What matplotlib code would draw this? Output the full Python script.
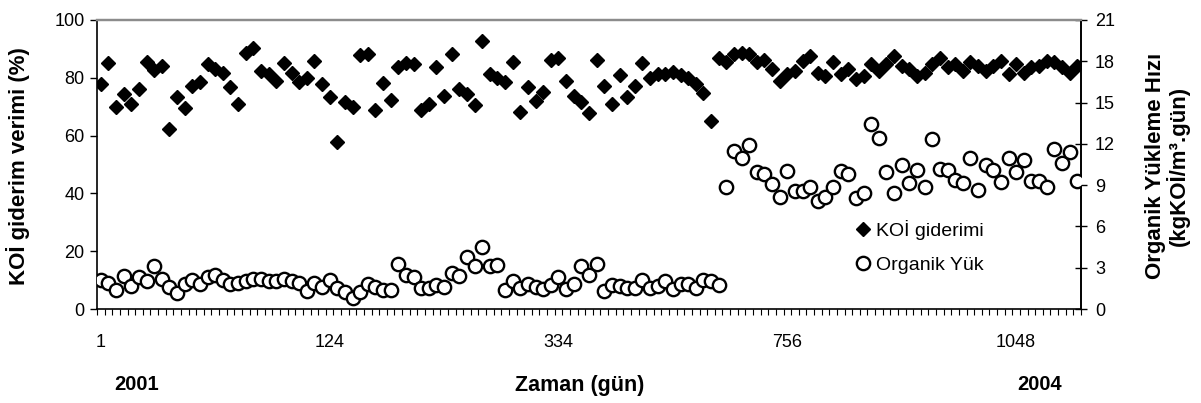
import matplotlib
matplotlib.use("Agg")
import matplotlib.pyplot as plt
from matplotlib.ticker import FixedLocator, NullFormatter

# ---- data ----
koi_giderimi = [
    77.8, 85.0, 70.0, 74.4, 71.0, 76.0, 85.3, 82.6, 84.0, 62.3,
    73.4, 69.4, 77.2, 78.6, 84.7, 83.0, 81.6, 76.7, 71.0, 88.7,
    90.4, 82.4, 81.3, 79.0, 85.0, 81.5, 78.4, 80.1, 85.9, 77.8,
    73.2, 57.7, 71.5, 70.0, 87.8, 88.2, 69.0, 78.2, 72.4, 83.9,
    85.0, 84.7, 69.0, 71.0, 83.9, 73.8, 88.2, 76.1, 74.4, 70.6,
    92.8, 81.3, 79.8, 78.7, 85.6, 68.0, 76.9, 72.0, 75.2, 86.2,
    86.7, 79.0, 73.8, 71.7, 67.8, 86.1, 77.2, 71.0, 80.9, 73.2,
    77.2, 85.0, 80.1, 81.3, 81.3, 82.0, 81.0, 79.9, 77.8, 74.9,
    65.2, 87.0, 85.3, 88.2, 88.7, 88.2, 85.3, 86.2, 83.0, 79.0,
    81.3, 82.4, 85.9, 87.6, 81.8, 80.7, 85.3, 81.3, 83.0, 79.5,
    80.7, 84.7, 82.4, 84.7, 87.6, 84.1, 83.0, 80.7, 81.8, 84.7,
    87.0, 83.6, 84.7, 82.4, 85.3, 84.1, 82.4, 84.1, 85.9, 81.3,
    84.7, 81.8, 83.6, 84.1, 85.9, 85.3, 83.6, 81.8, 84.1,
]
organik_yuk = [
    2.1, 1.9, 1.35, 2.4, 1.7, 2.3, 2.05, 3.1, 2.2, 1.6,
    1.15, 1.85, 2.1, 1.85, 2.35, 2.45, 2.1, 1.85, 1.9, 2.05,
    2.15, 2.15, 2.0, 2.0, 2.15, 2.05, 1.9, 1.3, 1.9, 1.6,
    2.1, 1.5, 1.25, 0.8, 1.25, 1.8, 1.6, 1.4, 1.35, 3.3,
    2.45, 2.3, 1.5, 1.5, 1.75, 1.6, 2.65, 2.4, 3.8, 3.15,
    4.5, 3.1, 3.2, 1.38, 2.05, 1.55, 1.8, 1.6, 1.45, 1.75,
    2.35, 1.45, 1.85, 3.15, 2.45, 3.3, 1.3, 1.75, 1.7, 1.55,
    1.5, 2.1, 1.5, 1.65, 2.05, 1.45, 1.85, 1.8, 1.55, 2.1,
    2.05, 1.75, 8.86, 11.5, 10.96, 11.9, 9.95, 9.8, 9.1, 8.14,
    10.0, 8.55, 8.55, 8.9, 7.85, 8.14, 8.9, 10.0, 9.8, 8.1,
    8.4, 13.45, 12.45, 9.95, 8.4, 10.5, 9.15, 10.1, 8.9, 12.35,
    10.2, 10.1, 9.4, 9.15, 11.0, 8.67, 10.43, 10.07, 9.22, 11.0,
    9.95, 10.85, 9.27, 9.27, 8.86, 11.65, 10.6, 11.4, 9.3,
]
tick_positions = [0, 30, 60, 90, 120]
tick_labels = ["1", "124", "334", "756", "1048"]
left_ticks = [0, 20, 40, 60, 80, 100]
right_ticks = [0, 3, 6, 9, 12, 15, 18, 21]

FONT = ["Liberation Sans", "DejaVu Sans"]
plt.rcParams["font.family"] = FONT

W, H = 1201, 403
fig = plt.figure(figsize=(W / 100, H / 100), dpi=100)
ax = fig.add_axes([97 / W, 1 - 309 / H, (1081 - 97) / W, (309 - 20) / H])
ax2 = ax.twinx()

n = len(koi_giderimi)
x = list(range(n))

l1, = ax.plot(x, koi_giderimi, linestyle="none", marker="D", markersize=7.4,
              color="black", markeredgecolor="black", label="KOİ giderimi", zorder=3)
l2, = ax2.plot(x, organik_yuk, linestyle="none", marker="o", markersize=9.6,
               markerfacecolor="white", markeredgecolor="black", markeredgewidth=1.7,
               label="Organik Yük", zorder=3)

ax.set_xlim(-0.5, n - 0.5)
ax.set_ylim(0, 100)
ax2.set_ylim(0, 21)

ax.set_yticks(left_ticks)
ax2.set_yticks(right_ticks)

ax.xaxis.set_major_locator(FixedLocator(tick_positions))
ax.set_xticklabels(tick_labels)
ax.xaxis.set_minor_locator(FixedLocator([i - 0.5 for i in range(n + 1)]))
ax.xaxis.set_minor_formatter(NullFormatter())
ax.tick_params(axis="x", which="major", length=0, pad=18, labelsize=13)
ax.tick_params(axis="x", which="minor", length=4, width=0.8, direction="out")
ax.tick_params(axis="y", which="major", length=5, width=1, direction="out", pad=4, labelsize=13)
ax2.tick_params(axis="y", which="major", length=8, width=1, direction="inout", pad=6, labelsize=13)

for a in (ax, ax2):
    a.spines["top"].set_color("#8c8c8c")
    a.spines["top"].set_linewidth(1.6)
    a.spines["left"].set_linewidth(1.2)
    a.spines["bottom"].set_linewidth(1.2)
    a.spines["right"].set_linewidth(1.2)
ax2.spines["left"].set_visible(False)
ax2.spines["bottom"].set_visible(False)

# axis titles
fig.text(18 / W, 1 - 166 / H, "KOİ giderim verimi (%)", rotation=90, ha="center",
         va="center", fontsize=16, fontweight="bold")
fig.text(1155 / W, 1 - 166 / H, "Organik Yükleme Hızı", rotation=90, ha="center",
         va="center", fontsize=16, fontweight="bold")
fig.text(1178 / W, 1 - 166 / H, "(kgKOİ/m³.gün)", rotation=90, ha="center",
         va="center", fontsize=16, fontweight="bold")
fig.text(580 / W, 1 - 385 / H, "Zaman (gün)", ha="center", va="center",
         fontsize=15.5, fontweight="bold")
fig.text(137 / W, 1 - 385 / H, "2001", ha="center", va="center",
         fontsize=14.5, fontweight="bold")
fig.text(1040 / W, 1 - 385 / H, "2004", ha="center", va="center",
         fontsize=14.5, fontweight="bold")

fig.legend(handles=[l1, l2], loc="center left",
           bbox_to_anchor=(855 / W, 1 - 247 / H), frameon=False,
           prop={"size": 14}, handlelength=0.8,
           handletextpad=0.3, labelspacing=0.85, borderpad=0, borderaxespad=0)

fig.savefig("out.png", dpi=100)
